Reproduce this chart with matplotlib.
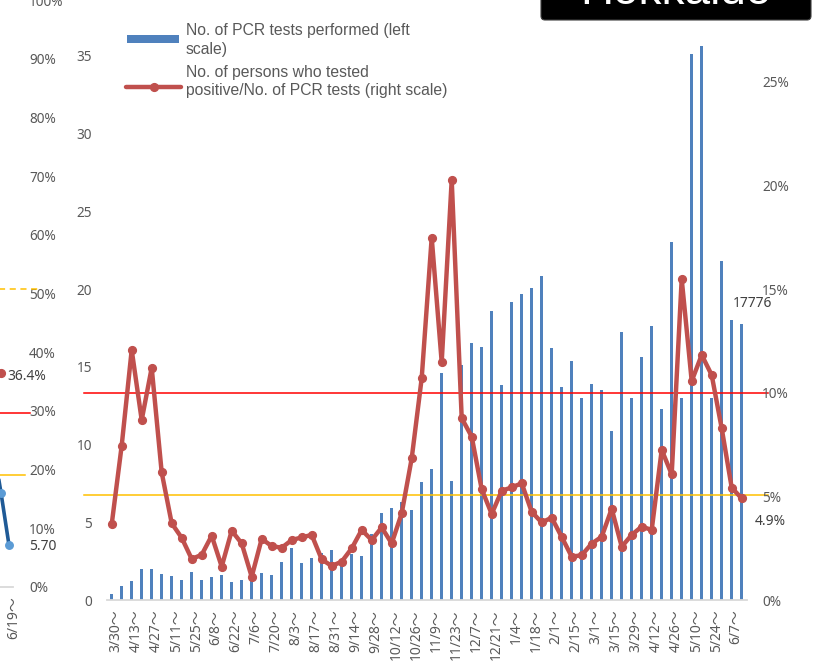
import matplotlib
matplotlib.use("Agg")
import matplotlib.pyplot as plt
import matplotlib.transforms as mtrans
from matplotlib.patches import Rectangle, FancyBboxPatch
from matplotlib.lines import Line2D

plt.rcParams['font.family'] = ['Noto Sans', 'Noto Sans CJK JP']

# ---------------- data ----------------
week_labels = ['3/30～', '4/13～', '4/27～', '5/11～', '5/25～', '6/8～', '6/22～', '7/6～',
               '7/20～', '8/3～', '8/17～', '8/31～', '9/14～', '9/28～', '10/12～', '10/26～',
               '11/9～', '11/23～', '12/7～', '12/21～', '1/4～', '1/18～', '2/1～', '2/15～',
               '3/1～', '3/15～', '3/29～', '4/12～', '4/26～', '5/10～', '5/24～', '6/7～']

# No. of PCR tests performed (thousands, left scale), weekly
tests = [0.41, 0.90, 1.23, 2.02, 2.02, 1.66, 1.55, 1.27, 1.81, 1.31,
         1.50, 1.59, 1.16, 1.27, 1.40, 1.76, 1.60, 2.47, 3.33, 2.41,
         2.67, 3.05, 3.23, 2.50, 2.95, 2.84, 4.24, 5.57, 5.89, 6.28,
         5.81, 7.61, 8.41, 14.60, 7.68, 15.10, 16.50, 16.24, 18.58, 13.80,
         19.18, 19.68, 20.05, 20.84, 16.20, 13.70, 15.35, 12.97, 13.87, 13.50,
         10.90, 17.26, 12.97, 15.60, 17.60, 12.30, 23.00, 12.97, 35.10, 35.60,
         12.97, 21.80, 18.00, 17.776]

# Positivity rate (%, right scale)
rate = [3.65, 7.45, 12.06, 8.68, 11.20, 6.15, 3.70, 3.00, 1.98, 2.18,
        3.10, 1.61, 3.34, 2.73, 1.12, 2.95, 2.60, 2.52, 2.89, 3.02,
        3.14, 1.96, 1.64, 1.85, 2.49, 3.38, 2.89, 3.50, 2.73, 4.18,
        6.83, 10.70, 17.48, 11.47, 20.26, 8.77, 7.88, 5.34, 4.15, 5.27,
        5.43, 5.63, 4.25, 3.74, 3.97, 3.04, 2.09, 2.16, 2.72, 3.05,
        4.40, 2.57, 3.14, 3.54, 3.38, 7.24, 6.06, 15.48, 10.56, 11.82,
        10.85, 8.28, 5.42, 4.90]

threshold_red = 10.0
threshold_orange = 5.05

left_ticks = [0, 5, 10, 15, 20, 25, 30, 35]
right_ticks = [0, 5, 10, 15, 20, 25]

# neighbouring chart (cut at the left edge)
prev_label = '6/19～'
prev_idx = [-2, -1, 0]
prev_blue = [19.4, 12.85, 5.70]
prev_red_idx = [-1]
prev_red = [0.364]
prev_thr_dashed = 0.507
prev_thr_red = 0.296
prev_thr_orange = 0.191

title = 'Hokkaido'
legend1 = ['No. of PCR tests performed (left', 'scale)']
legend2 = ['No. of persons who tested', 'positive/No. of PCR tests (right scale)']

# ---------------- styling ----------------
W, H = 813, 663
BLUE = '#4F81BD'
RED = '#C0504D'
GREY = '#595959'
DARK = '#404040'

fig = plt.figure(figsize=(W / 100, H / 100), dpi=100)
P = fig.dpi_scale_trans


def pin(x, y):
    return (x / 100.0, (H - y) / 100.0)


def fx(x):
    return x / W


def fy(y):
    return 1 - y / H


# ---------------- main chart ----------------
ax = fig.add_axes([fx(106.7), fy(600), 640 / W, 622 / H])
n = len(tests)
xs = list(range(n))
ax.bar(xs, tests, width=0.32, color=BLUE, zorder=2)
ax.set_xlim(-0.5, n - 0.5)
ax.set_ylim(0, 40)
ax.set_yticks(left_ticks)
ax.set_yticklabels([str(t) for t in left_ticks])
ax.set_xticks(xs[::2])
ax.set_xticklabels(week_labels, rotation=90, va='top', ha='center')
for s in ['top', 'left', 'right']:
    ax.spines[s].set_visible(False)
ax.spines['bottom'].set_color('#D9D9D9')
ax.spines['bottom'].set_linewidth(1.3)
ax.tick_params(axis='y', length=0, pad=10.6, labelsize=9.8, labelcolor=GREY)
ax.tick_params(axis='x', length=0, pad=7, labelsize=10, labelcolor=GREY)
off = mtrans.ScaledTranslation(4.5 / 100, 0, P)
for lab in ax.get_xticklabels():
    lab.set_transform(lab.get_transform() + off)

ax2 = ax.twinx()
ax2.set_ylim(0, 30)
ax2.set_yticks(right_ticks)
ax2.set_yticklabels([f'{t}%' for t in right_ticks])
for s in ax2.spines.values():
    s.set_visible(False)
ax2.tick_params(axis='y', length=0, pad=11, labelsize=9.8, labelcolor=GREY)

bt = mtrans.blended_transform_factory(ax2.transAxes, ax2.transData)
x0 = (84 - 106.7) / 640
x1 = (768 - 106.7) / 640
ax2.plot([x0, x1], [threshold_red, threshold_red], transform=bt, color='#FF0000',
         lw=1.1, clip_on=False, zorder=1)
ax2.plot([x0, x1], [threshold_orange, threshold_orange], transform=bt, color='#FFC000',
         lw=1.1, clip_on=False, zorder=1)
ax2.plot(xs, rate, color=RED, lw=3.2, marker='o', ms=5.6, zorder=3,
         solid_joinstyle='round', solid_capstyle='round')

ax.annotate(f'{int(round(tests[-1] * 1000))}', xy=(n - 1, tests[-1]),
            xytext=(8.1, 14.8), textcoords='offset points', ha='center', va='center',
            fontsize=10, color=DARK)
ax2.annotate(f'{rate[-1]:.1f}%', xy=(n - 1, rate[-1]),
             xytext=(20.3, -16.4), textcoords='offset points', ha='center', va='center',
             fontsize=10, color=DARK, annotation_clip=False)

# ---------------- neighbouring chart (left edge) ----------------
axL = fig.add_axes([fx(-200), fy(587), 213 / W, 587 / H])
axLb = axL.twinx()
axL.set_xlim(-26.125, 0.5)
axL.set_ylim(0, 1)
axL.set_zorder(2)
axL.patch.set_visible(False)

axLb.set_ylim(0, 80)
axLb.set_yticks([])
for s in axLb.spines.values():
    s.set_visible(False)

axL.yaxis.tick_right()
axL.yaxis.set_label_position('right')
axL.set_yticks([i / 10 for i in range(11)])
axL.set_yticklabels([f'{i * 10}%' for i in range(11)])
axL.set_xticks([0])
axL.set_xticklabels([prev_label], rotation=90, va='top', ha='center')
for s in ['top', 'left', 'right']:
    axL.spines[s].set_visible(False)
axL.spines['bottom'].set_color('#D9D9D9')
axL.spines['bottom'].set_linewidth(1.3)
axL.tick_params(axis='y', which='both', left=False, right=False, labelleft=False,
                labelright=True, length=0, pad=11.5, labelsize=9.8, labelcolor=GREY)
axL.tick_params(axis='x', length=0, pad=7, labelsize=10, labelcolor=GREY)
for lab in axL.get_xticklabels():
    lab.set_transform(lab.get_transform() + off)

btL = mtrans.blended_transform_factory(axL.transAxes, axL.transData)
axL.plot([0.8, (40 + 200) / 213], [prev_thr_dashed] * 2, transform=btL, color='#FFC000',
         lw=1.1, ls=(0, (4, 3)), clip_on=False)
axL.plot([0.8, (30 + 200) / 213], [prev_thr_red] * 2, transform=btL, color='#FF0000',
         lw=1.1, clip_on=False)
axL.plot([0.8, (25 + 200) / 213], [prev_thr_orange] * 2, transform=btL, color='#FFC000',
         lw=1.1, clip_on=False)
axL.plot(prev_red_idx, prev_red, 'o', color=RED, ms=5.6, clip_on=False)
axL.annotate(f'{prev_red[-1] * 100:.1f}%', xy=(prev_red_idx[-1], prev_red[-1]),
             xytext=(4.3, -2), textcoords='offset points', ha='left', va='center',
             fontsize=10, color=DARK, annotation_clip=False)

axLb.plot(prev_idx, prev_blue, color='#1F5A96', lw=2.6, marker='o', ms=5.4,
          mfc='#5B9BD5', mec='#5B9BD5', clip_on=False)
axLb.annotate(f'{prev_blue[-1]:.2f}', xy=(prev_idx[-1], prev_blue[-1]),
              xytext=(14.4, -0.7), textcoords='offset points', ha='left', va='center',
              fontsize=10, color=DARK, annotation_clip=False)

# ---------------- legend ----------------
fig.add_artist(Rectangle(pin(127, 43), 52 / 100, 8.3 / 100, transform=P,
                         facecolor=BLUE, edgecolor='none'))
fig.add_artist(Line2D([126 / 100, 181 / 100], [(H - 87) / 100] * 2, transform=P,
                      color=RED, lw=3.2, solid_capstyle='round'))
fig.add_artist(Line2D([153.5 / 100], [(H - 87) / 100], transform=P,
                      color=RED, marker='o', ms=5.6))
for txt, yb in zip(legend1 + legend2, [35, 54, 77, 95.5]):
    fig.text(186 / 100, (H - yb) / 100, txt, transform=P, ha='left', va='baseline',
             fontsize=11.3, color=GREY, family=['Liberation Sans', 'DejaVu Sans'])

# ---------------- title box ----------------
fig.add_artist(FancyBboxPatch(pin(541, 20), 270 / 100, 60 / 100, transform=P,
                              boxstyle='round,pad=0,rounding_size=0.04',
                              facecolor='black', edgecolor='#404040', lw=0.8))
fig.text(676 / 100, (H - 4) / 100, title, transform=P, ha='center', va='baseline',
         fontsize=33, color='white', family=['Liberation Sans', 'DejaVu Sans'])

fig.savefig('out.png', dpi=100)
